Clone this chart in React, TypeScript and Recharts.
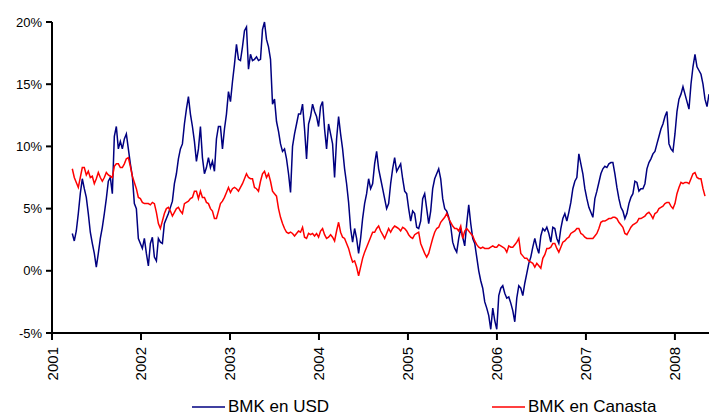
import { Line, LineChart, XAxis, YAxis } from 'recharts';

// Returns (%), one point every ~8 days from early 2001.
const START_YEAR = 2001.228;
const STEP_YEARS = 0.0225;

const usdReturns = [
  3.0, 2.4, 3.2, 4.6, 6.2, 7.4, 6.6, 5.9, 4.6, 3.1,
  2.2, 1.4, 0.3, 1.4, 2.6, 3.5, 4.6, 5.8, 7.2, 7.5,
  6.2, 10.8, 11.6, 9.8, 10.4, 9.8, 10.6, 11.0, 9.8, 8.6,
  7.6, 5.4, 5.0, 2.6, 2.2, 1.8, 2.6, 1.4, 0.4, 2.2,
  2.7, 1.1, 0.8, 2.6, 2.3, 2.2, 3.8, 4.2, 4.6, 5.1,
  5.6, 7.0, 7.8, 9.0, 9.8, 10.2, 11.8, 13.0, 14.0, 12.6,
  11.6, 10.4, 8.8, 9.8, 11.6, 9.1, 7.8, 8.3, 9.1, 8.3,
  8.8, 8.0, 10.6, 11.6, 11.6, 9.8, 11.4, 12.6, 14.4, 13.6,
  15.2, 16.6, 18.2, 17.0, 16.9, 18.0, 19.3, 19.6, 16.2, 17.4,
  16.9, 17.0, 17.2, 16.9, 17.0, 19.4, 20.0, 18.6, 18.0, 17.0,
  13.4, 13.8, 12.0, 11.2, 10.2, 9.6, 9.8, 9.0, 7.8, 6.3,
  10.0, 11.0, 11.8, 12.6, 12.6, 13.4, 11.4, 9.0, 11.8, 12.4,
  13.4, 12.8, 12.4, 11.6, 13.2, 13.6, 11.4, 9.8, 11.8, 11.0,
  10.2, 7.5, 10.6, 12.4, 11.0, 9.8, 8.2, 7.0, 5.5, 3.4,
  2.3, 3.4, 2.6, 1.4, 2.6, 4.2, 5.4, 6.2, 7.4, 6.6,
  7.0, 8.6, 9.6, 8.2, 7.4, 6.6, 5.8, 5.0, 5.4, 7.0,
  8.2, 9.1, 8.0, 8.3, 8.6, 7.4, 6.4, 6.2, 5.0, 4.0,
  4.8, 4.6, 3.5, 3.4, 4.0, 5.8, 6.2, 5.0, 3.8, 4.8,
  6.6, 7.4, 7.8, 8.2, 7.4, 5.8, 5.0, 4.8, 4.3, 3.6,
  2.3, 1.8, 1.5, 2.6, 3.4, 2.7, 2.0, 3.8, 5.3, 3.8,
  2.6, 2.2, 1.1, 0.0, -0.8, -1.4, -2.5, -3.0, -3.6, -4.7,
  -3.0, -4.0, -4.7, -2.0, -1.4, -1.2, -1.8, -2.2, -2.1, -2.6,
  -3.2, -4.1, -2.2, -1.2, -1.4, -2.0, -1.0, -0.2, 0.6, 1.1,
  1.9, 2.6, 1.9, 1.4, 2.8, 3.4, 3.2, 3.5, 3.0, 2.3,
  3.5, 3.4, 2.6, 2.2, 3.4, 4.2, 4.6, 4.0, 4.7, 5.5,
  6.6, 7.2, 7.5, 9.4, 8.6, 7.8, 6.6, 5.8, 5.1, 4.7,
  4.3, 5.8, 6.4, 7.1, 7.8, 8.2, 8.4, 8.3, 8.6, 8.7,
  8.7, 7.8, 6.7, 5.8, 5.1, 4.8, 4.2, 4.6, 5.4, 5.9,
  6.2, 7.2, 7.1, 6.4, 6.6, 6.6, 7.0, 8.2, 8.7, 9.0,
  9.4, 9.6, 10.2, 10.8, 11.4, 11.8, 12.4, 12.8, 10.2, 9.8,
  9.6, 11.0, 12.8, 13.8, 14.2, 14.8, 14.2, 13.6, 13.0, 15.0,
  16.4, 17.4, 16.4, 16.1, 15.8, 15.0, 13.8, 13.2, 14.2,
];

const canastaReturns: (number | null)[] = [
  8.2, 7.5, 7.1, 6.7, 7.5, 8.3, 8.3, 7.7, 8.0, 7.5,
  7.6, 7.0, 7.4, 7.9, 7.5, 7.2, 7.5, 7.9, 7.7, 7.6,
  7.5, 8.4, 8.6, 8.6, 8.3, 8.3, 8.6, 9.0, 9.1, 8.4,
  7.6, 7.1, 6.6, 5.9, 5.8, 5.5, 5.4, 5.4, 5.4, 5.3,
  5.5, 5.4, 4.7, 3.8, 3.4, 4.0, 4.6, 5.0, 5.1, 4.8,
  4.4, 4.7, 5.0, 5.1, 4.8, 4.6, 5.4, 5.5, 5.6, 5.8,
  5.9, 6.4, 6.4, 5.8, 6.4, 5.9, 5.9, 5.5, 5.4, 5.0,
  4.8, 4.2, 4.2, 4.8, 5.4, 5.6, 5.9, 6.3, 6.7, 6.3,
  6.6, 6.7, 6.6, 6.4, 6.7, 7.0, 7.4, 7.8, 7.5, 7.4,
  7.4, 6.7, 6.6, 6.4, 7.2, 7.8, 8.0, 7.5, 7.8, 7.2,
  6.4, 6.2, 6.0, 5.0, 4.3, 3.8, 3.4, 3.1, 3.0, 3.1,
  3.0, 2.8, 3.0, 3.2, 3.1, 3.5, 2.7, 2.6, 3.0, 2.9,
  3.0, 2.8, 3.0, 2.7, 3.2, 3.4, 2.9, 2.6, 2.7, 2.9,
  2.7, 2.4, 3.2, 3.9, 3.1, 2.7, 2.6, 2.2, 1.8, 1.2,
  0.7, 0.8, 0.3, -0.4, 0.3, 1.0, 1.5, 1.9, 2.3, 2.7,
  3.1, 3.1, 3.4, 3.6, 3.2, 2.9, 2.6, 3.0, 3.4, 3.1,
  3.4, 3.6, 3.5, 3.4, 3.2, 3.5, 3.4, 3.2, 2.9, 2.7,
  2.6, 2.9, 3.0, 3.1, 2.2, 1.8, 1.4, 1.1, 1.4, 2.0,
  2.6, 3.1, 3.4, 3.5, 3.9, 4.1, 4.3, 4.6, 4.2, 3.9,
  3.6, 3.4, 3.4, 3.2, 3.6, 2.6, 3.2, 3.4, 3.2, 3.0,
  2.8, 2.4, 2.1, 1.9, 1.8, 1.9, 1.8, 1.8, 1.8, 1.9,
  2.0, 1.9, 1.9, 2.1, 2.0, 1.9, 1.8, 1.5, 2.0, 1.9,
  1.9, 2.1, 2.3, 2.6, 1.4, 1.2, 1.0, 1.0, 0.8, 0.7,
  0.6, 0.3, 0.6, 0.4, 0.2, 1.0, 1.3, 1.8, 1.8, 1.9,
  2.2, 2.2, 1.8, 1.5, 1.9, 2.3, 2.4, 2.6, 2.7, 3.0,
  3.1, 3.2, 3.4, 3.4, 3.0, 2.9, 2.7, 2.6, 2.6, 2.6,
  2.6, 2.8, 3.0, 3.4, 3.9, 4.0, 4.0, 4.1, 4.2, 4.2,
  4.3, 4.3, 4.2, 3.9, 3.7, 3.5, 3.0, 2.9, 3.2, 3.5,
  3.7, 3.8, 3.9, 4.2, 4.2, 4.3, 4.4, 4.6, 4.7, 4.5,
  4.2, 4.6, 4.7, 5.0, 5.1, 5.2, 5.4, 5.5, 5.5, 5.2,
  5.0, 5.4, 6.2, 6.7, 7.1, 7.0, 7.1, 7.1, 7.0, 7.4,
  7.8, 7.9, 7.5, 7.4, 7.4, 6.6, 6.0, null, null,
];

const yearTicks = [2001, 2002, 2003, 2004, 2005, 2006, 2007, 2008];
const pctTicks = [-5, 0, 5, 10, 15, 20];

const FONT = '"Liberation Sans", Arial, sans-serif';

const data = usdReturns.map((usd, i) => ({
  t: START_YEAR + i * STEP_YEARS,
  usd,
  canasta: canastaReturns[i],
}));

function YearTick({ x, y, payload }: { x?: number; y?: number; payload?: { value?: number } }) {
  return (
    <text
      transform={`translate(${(x ?? 0) + 5.5},${y ?? 0}) rotate(-90)`}
      textAnchor="end"
      fontSize={15}
      fontFamily={FONT}
      fill="#000"
    >
      {payload?.value}
    </text>
  );
}

function LegendItem({ color, label, left }: { color: string; label: string; left: number }) {
  return (
    <div
      style={{
        position: 'absolute',
        left,
        top: 399,
        height: 16,
        display: 'flex',
        alignItems: 'center',
        whiteSpace: 'nowrap',
      }}
    >
      <svg width={34} height={16} style={{ display: 'block' }}>
        <line x1={0} y1={8} x2={33} y2={8} stroke={color} strokeWidth={1.5} />
      </svg>
      <span style={{ fontSize: 17, lineHeight: '16px', fontFamily: FONT, color: '#000', marginLeft: 2 }}>{label}</span>
    </div>
  );
}

export default function App() {
  return (
    <div style={{ position: 'absolute', left: 0, top: 0, width: 709, height: 415, background: '#fff', overflow: 'hidden' }}>
      <LineChart width={709} height={415} data={data} margin={{ top: 22, right: 0, bottom: 0, left: 8 }}>
        <XAxis
          type="number"
          dataKey="t"
          domain={[2001, 2008.383]}
          allowDataOverflow
          ticks={yearTicks}
          tick={<YearTick />}
          tickSize={7}
          tickMargin={7}
          height={82}
          interval={0}
          axisLine={{ stroke: '#000', strokeWidth: 2 }}
          tickLine={{ stroke: '#000', strokeWidth: 2 }}
        />
        <YAxis
          type="number"
          domain={[-5, 20]}
          ticks={pctTicks}
          interval={0}
          width={44}
          tickSize={6}
          tickMargin={4}
          tickFormatter={(v) => `${v}%`}
          tick={{ fontSize: 13, fill: '#000', fontFamily: FONT }}
          axisLine={{ stroke: '#000', strokeWidth: 2 }}
          tickLine={{ stroke: '#000', strokeWidth: 2 }}
        />
        <Line type="linear" dataKey="usd" stroke="#000080" strokeWidth={1.5} dot={false} isAnimationActive={false} />
        <Line type="linear" dataKey="canasta" stroke="#ff0000" strokeWidth={1.5} dot={false} isAnimationActive={false} />
      </LineChart>
      <LegendItem color="#000080" label="BMK en USD" left={192} />
      <LegendItem color="#ff0000" label="BMK en Canasta" left={492} />
    </div>
  );
}
